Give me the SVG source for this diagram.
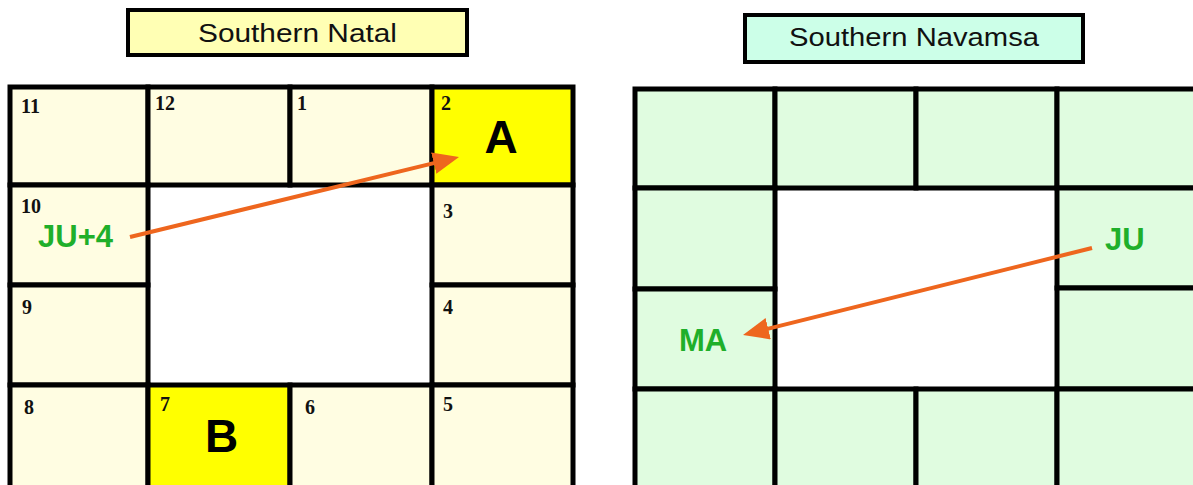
<svg xmlns="http://www.w3.org/2000/svg" width="1193" height="485" viewBox="0 0 1193 485">
  <style>
    .title { stroke: #000; stroke-width: 4; }
    .tt { font-family: "Liberation Sans", Arial, sans-serif; font-size: 26px; fill: #111; text-anchor: middle; }
    .cn { stroke: #000; stroke-width: 5; fill: #FFFDE2; }
    .cy { stroke: #000; stroke-width: 5; fill: #FFFF00; }
    .cg { stroke: #000; stroke-width: 5; fill: #E0FCE0; }
    .num { font-family: "Liberation Serif", "Times New Roman", serif; font-weight: bold; font-size: 20px; fill: #111; }
    .big { font-family: "Liberation Sans", Arial, sans-serif; font-weight: bold; font-size: 46px; fill: #000; text-anchor: middle; }
    .pl { font-family: "Liberation Sans", Arial, sans-serif; font-weight: bold; font-size: 31px; fill: #1FAF2A; }
    .arr { stroke: #EE661E; stroke-width: 4; fill: none; marker-end: url(#ah); }
  </style>
  <defs>
    <marker id="ah" markerUnits="userSpaceOnUse" viewBox="0 0 26 22" markerWidth="26" markerHeight="22" refX="16" refY="11" orient="auto">
      <path d="M0,0 L26,11 L0,22 z" fill="#EE661E"/>
    </marker>
  </defs>
  <rect width="1193" height="485" fill="#fff"/>

  <g id="title-natal">
    <rect class="title" x="128" y="10" width="339" height="45" fill="#FFFFB4"/>
    <text class="tt" x="297.5" y="42" textLength="199" lengthAdjust="spacingAndGlyphs">Southern Natal</text>
  </g>
  <g id="title-navamsa">
    <rect class="title" x="745" y="15" width="338" height="47" fill="#CCFFE8"/>
    <text class="tt" x="914" y="46" textLength="250" lengthAdjust="spacingAndGlyphs">Southern Navamsa</text>
  </g>

  <!-- Natal chart -->
  <g id="natal-11"><rect class="cn" x="10" y="87" width="138" height="98"/><text class="num" x="21" y="113">11</text></g>
  <g id="natal-12"><rect class="cn" x="148" y="87" width="142" height="98"/><text class="num" x="155" y="110">12</text></g>
  <g id="natal-1"><rect class="cn" x="290" y="87" width="142" height="98"/><text class="num" x="297" y="110">1</text></g>
  <g id="natal-2"><rect class="cy" x="432" y="87" width="141" height="98"/><text class="num" x="441" y="110">2</text><text class="big" x="501" y="153">A</text></g>
  <g id="natal-10"><rect class="cn" x="10" y="185" width="138" height="100"/><text class="num" x="21" y="213">10</text><text class="pl" x="38" y="247">JU+4</text></g>
  <g id="natal-3"><rect class="cn" x="432" y="185" width="141" height="100"/><text class="num" x="443" y="218">3</text></g>
  <g id="natal-9"><rect class="cn" x="10" y="285" width="138" height="100"/><text class="num" x="22" y="314">9</text></g>
  <g id="natal-4"><rect class="cn" x="432" y="285" width="141" height="100"/><text class="num" x="443" y="314">4</text></g>
  <g id="natal-8"><rect class="cn" x="10" y="385" width="138" height="110"/><text class="num" x="24" y="414">8</text></g>
  <g id="natal-7"><rect class="cy" x="148" y="385" width="142" height="110"/><text class="num" x="160" y="411">7</text><text class="big" x="221.5" y="452">B</text></g>
  <g id="natal-6"><rect class="cn" x="290" y="385" width="142" height="110"/><text class="num" x="305" y="414">6</text></g>
  <g id="natal-5"><rect class="cn" x="432" y="385" width="141" height="110"/><text class="num" x="443" y="411">5</text></g>

  <!-- Navamsa chart -->
  <g id="nav-r1c1"><rect class="cg" x="635" y="89" width="140" height="99"/></g>
  <g id="nav-r1c2"><rect class="cg" x="775" y="89" width="141" height="99"/></g>
  <g id="nav-r1c3"><rect class="cg" x="916" y="89" width="141" height="99"/></g>
  <g id="nav-r1c4"><rect class="cg" x="1057" y="89" width="142" height="99"/></g>
  <g id="nav-r2c1"><rect class="cg" x="635" y="188" width="140" height="101"/></g>
  <g id="nav-r2c4"><rect class="cg" x="1057" y="188" width="142" height="100"/><text class="pl" x="1105" y="250" font-size="30">JU</text></g>
  <g id="nav-r3c1"><rect class="cg" x="635" y="289" width="140" height="100"/><text class="pl" x="679" y="351">MA</text></g>
  <g id="nav-r3c4"><rect class="cg" x="1057" y="288" width="142" height="101"/></g>
  <g id="nav-r4c1"><rect class="cg" x="635" y="389" width="140" height="110"/></g>
  <g id="nav-r4c2"><rect class="cg" x="775" y="389" width="141" height="110"/></g>
  <g id="nav-r4c3"><rect class="cg" x="916" y="389" width="141" height="110"/></g>
  <g id="nav-r4c4"><rect class="cg" x="1057" y="389" width="142" height="110"/></g>

  <g id="connectors">
    <line class="arr" x1="130" y1="237" x2="449.3" y2="159.4"/>
    <line class="arr" x1="1092" y1="248" x2="752.7" y2="332.6"/>
  </g>
</svg>
